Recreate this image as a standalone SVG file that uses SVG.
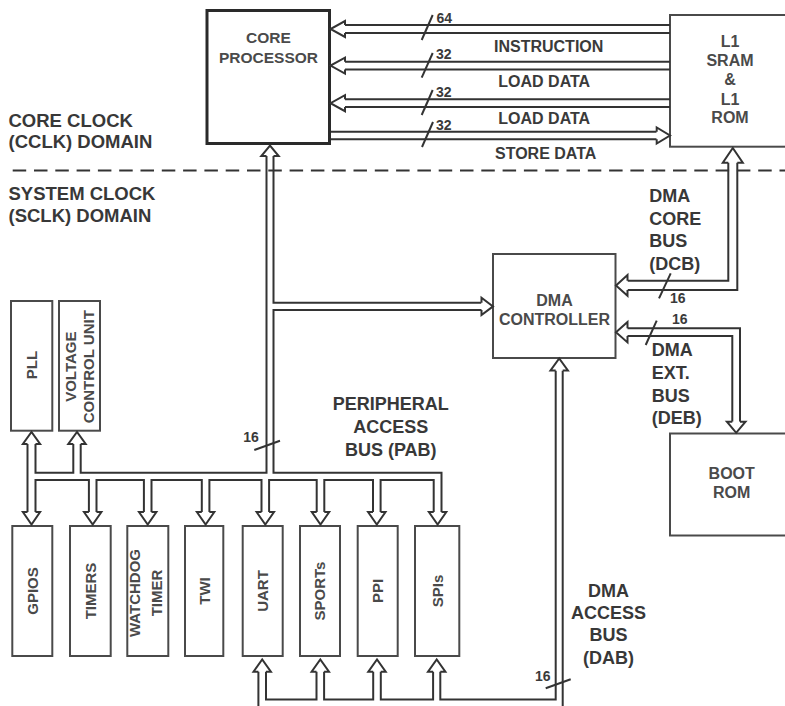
<svg xmlns="http://www.w3.org/2000/svg" width="785" height="706" viewBox="0 0 785 706">
<style>
.box{fill:#fff;stroke:#4a4a4a;stroke-width:2}
.core{fill:#fff;stroke:#2a2a2a;stroke-width:3}
.w{fill:none;stroke:#333;stroke-width:2}
.ah{fill:#fff;stroke:#333;stroke-width:2;stroke-linejoin:miter}
.sl{stroke:#333;stroke-width:2}
.lbl{font-family:"Liberation Sans",Arial,sans-serif;font-weight:bold;font-size:18.5px;fill:#383838}
.bt{font-family:"Liberation Sans",Arial,sans-serif;font-weight:bold;font-size:16px;fill:#4a4a4a;text-anchor:middle}
.pt{font-family:"Liberation Sans",Arial,sans-serif;font-weight:bold;font-size:15px;fill:#4a4a4a;text-anchor:middle}
.bus{font-family:"Liberation Sans",Arial,sans-serif;font-weight:bold;font-size:16px;fill:#3a3a3a}
.num{font-family:"Liberation Sans",Arial,sans-serif;font-weight:bold;font-size:14px;fill:#3a3a3a}
.mid{text-anchor:middle}
</style>
<rect width="785" height="706" fill="#fff"/>
<line x1="12.7" y1="170.5" x2="785" y2="170.5" stroke="#333" stroke-width="2" stroke-dasharray="13.5 7.8"/>
<g id="domain-labels">
<text class="lbl" x="8.5" y="126.7">CORE CLOCK</text>
<text class="lbl" x="8.5" y="148.3">(CCLK) DOMAIN</text>
<text class="lbl" x="8.5" y="200">SYSTEM CLOCK</text>
<text class="lbl" x="8.5" y="221.7">(SCLK) DOMAIN</text>
</g>
<g id="core-processor">
<rect class="core" x="207" y="10.5" width="122.5" height="133"/>
<text class="bt" x="268.5" y="43.3" style="font-size:15.5px">CORE</text>
<text class="bt" x="268.5" y="62.7" style="font-size:15.5px">PROCESSOR</text>
</g>
<g id="l1-memory">
<rect class="box" x="670" y="15" width="125" height="131.7"/>
<text class="bt" x="730" y="46.7">L1</text>
<text class="bt" x="730" y="66">SRAM</text>
<text class="bt" x="730" y="85">&amp;</text>
<text class="bt" x="730" y="105">L1</text>
<text class="bt" x="730" y="123.3">ROM</text>
</g>
<g id="dma-controller">
<rect class="box" x="493" y="254" width="122.5" height="104"/>
<text class="bt" x="554.5" y="306">DMA</text>
<text class="bt" x="554.5" y="325">CONTROLLER</text>
</g>
<g id="boot-rom">
<rect class="box" x="670" y="433.5" width="125" height="102"/>
<text class="bt" x="731.7" y="479">BOOT</text>
<text class="bt" x="731.7" y="497.7">ROM</text>
</g>
<g id="pll">
<rect class="box" x="11" y="301" width="41.3" height="129.7"/>
<text class="pt" transform="translate(37,365) rotate(-90)">PLL</text>
</g>
<g id="voltage-control-unit">
<rect class="box" x="59" y="301" width="41" height="129.7"/>
<text class="pt" transform="translate(75.5,366.7) rotate(-90)">VOLTAGE</text>
<text class="pt" transform="translate(93.8,366.7) rotate(-90)">CONTROL UNIT</text>
</g>
<g id="gpios">
<rect class="box" x="12.3" y="526" width="40" height="130"/>
<text class="pt" transform="translate(37.7,591) rotate(-90)">GPIOS</text>
</g>
<g id="timers">
<rect class="box" x="70" y="526" width="40.7" height="130"/>
<text class="pt" transform="translate(95.7,591) rotate(-90)">TIMERS</text>
</g>
<g id="watchdog-timer">
<rect class="box" x="127.3" y="526" width="41" height="130"/>
<text class="pt" transform="translate(140.4,593) rotate(-90)">WATCHDOG</text>
<text class="pt" transform="translate(162.1,593) rotate(-90)">TIMER</text>
</g>
<g id="twi">
<rect class="box" x="185" y="526" width="38.3" height="130"/>
<text class="pt" transform="translate(209.6,591) rotate(-90)">TWI</text>
</g>
<g id="uart">
<rect class="box" x="242.7" y="526" width="40" height="130"/>
<text class="pt" transform="translate(268.1,591) rotate(-90)">UART</text>
</g>
<g id="sports">
<rect class="box" x="300" y="526" width="40" height="130"/>
<text class="pt" transform="translate(325.4,591) rotate(-90)">SPORTs</text>
</g>
<g id="ppi">
<rect class="box" x="357.7" y="526" width="40" height="130"/>
<text class="pt" transform="translate(383.1,591) rotate(-90)">PPI</text>
</g>
<g id="spis">
<rect class="box" x="415" y="526" width="44.3" height="130"/>
<text class="pt" transform="translate(442.6,591) rotate(-90)">SPIs</text>
</g>
<g id="connectors">
<!-- core <-> L1 buses -->
<path class="w" d="M670,25 H345 M670,33 H345 M670,61.7 H345 M670,69.5 H345 M670,99.3 H345 M670,107.1 H345 M331,131.7 H656.7 M331,139.3 H656.7"/>
<path class="ah" d="M345,25 V21 L330.5,29 L345,37 V33"/>
<path class="ah" d="M345,61.7 V57.6 L330.5,65.6 L345,73.6 V69.5"/>
<path class="ah" d="M345,99.3 V95.2 L330.5,103.2 L345,111.2 V107.1"/>
<path class="ah" d="M656.7,131.7 V127.5 L670,135.5 L656.7,143.5 V139.3"/>
<line class="sl" x1="421.7" y1="40" x2="432.7" y2="15"/>
<line class="sl" x1="421.7" y1="77.7" x2="432.7" y2="53"/>
<line class="sl" x1="421.7" y1="115" x2="432.7" y2="90"/>
<line class="sl" x1="422" y1="147" x2="433" y2="122"/>
<!-- PAB -->
<path class="ah" d="M266.5,156 H261.3 L270,145.5 L278.7,156 H273.5"/>
<path class="w" d="M266.5,156 V472.7 H80.7 V444"/>
<path class="ah" d="M73.3,444 H68.3 L77,432 L85.7,444 H80.7"/>
<path class="w" d="M73.3,444 V472.7 H35.5 V444"/>
<path class="ah" d="M27.5,444 H22.9 L31.5,432 L40.1,444 H35.5"/>
<path class="w" d="M27.5,444 V512"/>
<path class="w" d="M273.5,156 V302.7 H481.5"/>
<path class="ah" d="M481.5,302.7 V297.8 L493,306.4 L481.5,315 V310"/>
<path class="w" d="M481.5,310 H273.5 V472.7 H441.5 V512"/>
<path class="w" d="M35.5,512 V480 H88.9 V512 M96.5,512 V480 H143.9 V512 M151.5,512 V480 H201.8 V512 M209.4,512 V480 H261.5 V512 M269.1,512 V480 H316.7 V512 M324.3,512 V480 H373 V512 M380.6,512 V480 H433.7 V512"/>
<path class="ah" d="M27.5,512 H22.9 L31.5,524.5 L40.1,512 H35.5"/>
<path class="ah" d="M88.9,512 H84 L92.7,524.5 L101.4,512 H96.5"/>
<path class="ah" d="M143.9,512 H139 L147.7,524.5 L156.4,512 H151.5"/>
<path class="ah" d="M201.8,512 H196.9 L205.6,524.5 L214.3,512 H209.4"/>
<path class="ah" d="M261.5,512 H256.6 L265.3,524.5 L274,512 H269.1"/>
<path class="ah" d="M316.7,512 H311.8 L320.5,524.5 L329.2,512 H324.3"/>
<path class="ah" d="M373,512 H368.1 L376.8,524.5 L385.5,512 H380.6"/>
<path class="ah" d="M433.7,512 H428.9 L437.6,524.5 L446.3,512 H441.5"/>
<line class="sl" x1="254.3" y1="450" x2="280" y2="440.7"/>
<!-- DAB -->
<path class="ah" d="M258.4,671.7 H253.5 L262.2,659.5 L270.9,671.7 H266"/>
<path class="ah" d="M316.5,671.7 H311.6 L320.3,659.5 L329,671.7 H324.1"/>
<path class="ah" d="M373.2,671.7 H368.3 L377,659.5 L385.7,671.7 H380.8"/>
<path class="ah" d="M433.1,671.7 H428 L436.7,659.5 L445.4,671.7 H440.3"/>
<path class="w" d="M258.4,671.7 V712 M266,671.7 V699.5 H316.5 V671.7 M324.1,671.7 V699.5 H373.2 V671.7 M380.8,671.7 V699.5 H433.1 V671.7 M440.3,671.7 V699.5 H555.7 V370.5 M562.7,370.5 V712"/>
<path class="ah" d="M555.7,370.5 H550.5 L559.2,358.5 L567.9,370.5 H562.7"/>
<line class="sl" x1="545.7" y1="688.3" x2="570.7" y2="679.3"/>
<!-- DCB -->
<path class="ah" d="M728.3,162.7 H722.8 L732.8,148 L742.8,162.7 H737.3"/>
<path class="w" d="M728.3,162.7 V280.7 H627.5 M737.3,162.7 V290 H627.5"/>
<path class="ah" d="M627.5,280.7 V275 L616,285.4 L627.5,295.8 V290"/>
<line class="sl" x1="659" y1="298.3" x2="670.7" y2="273.3"/>
<!-- DEB -->
<path class="ah" d="M627.5,328.3 V322 L616,332.2 L627.5,342.4 V336"/>
<path class="w" d="M627.5,328.3 H740 V421.7 M627.5,336 H732.3 V421.7"/>
<path class="ah" d="M732.3,421.7 H726.9 L736.2,432.8 L745.5,421.7 H740"/>
<line class="sl" x1="645.7" y1="345" x2="656.7" y2="320.7"/>
</g>
<g id="bus-labels">
<text class="bus" x="494" y="51.7">INSTRUCTION</text>
<text class="bus" x="498.3" y="87.3">LOAD DATA</text>
<text class="bus" x="498.3" y="124">LOAD DATA</text>
<text class="bus" x="495" y="159.3">STORE DATA</text>
<text class="num" x="436.5" y="22.7">64</text>
<text class="num" x="436" y="59">32</text>
<text class="num" x="436" y="97">32</text>
<text class="num" x="436" y="130">32</text>
<text class="num" x="243.3" y="441.7">16</text>
<text class="num" x="535" y="680.7">16</text>
<text class="num" x="670" y="303.3">16</text>
<text class="num" x="672" y="323.5">16</text>
<text class="lbl" x="649.3" y="201.7" style="font-size:18px">DMA</text>
<text class="lbl" x="649.3" y="224.5" style="font-size:18px">CORE</text>
<text class="lbl" x="649.3" y="246.7" style="font-size:18px">BUS</text>
<text class="lbl" x="649.3" y="269.5" style="font-size:18px">(DCB)</text>
<text class="lbl" x="651.7" y="356" style="font-size:18px">DMA</text>
<text class="lbl" x="651.7" y="379.3" style="font-size:18px">EXT.</text>
<text class="lbl" x="651.7" y="401.7" style="font-size:18px">BUS</text>
<text class="lbl" x="651.7" y="424" style="font-size:18px">(DEB)</text>
<text class="lbl mid" x="390.8" y="410" style="font-size:18px">PERIPHERAL</text>
<text class="lbl mid" x="390.8" y="433.3" style="font-size:18px">ACCESS</text>
<text class="lbl mid" x="390.8" y="456" style="font-size:18px">BUS (PAB)</text>
<text class="lbl mid" x="608.5" y="596.5" style="font-size:18px">DMA</text>
<text class="lbl mid" x="608.5" y="618.5" style="font-size:18px">ACCESS</text>
<text class="lbl mid" x="608.5" y="641" style="font-size:18px">BUS</text>
<text class="lbl mid" x="608.5" y="663.5" style="font-size:18px">(DAB)</text>
</g>
</svg>
